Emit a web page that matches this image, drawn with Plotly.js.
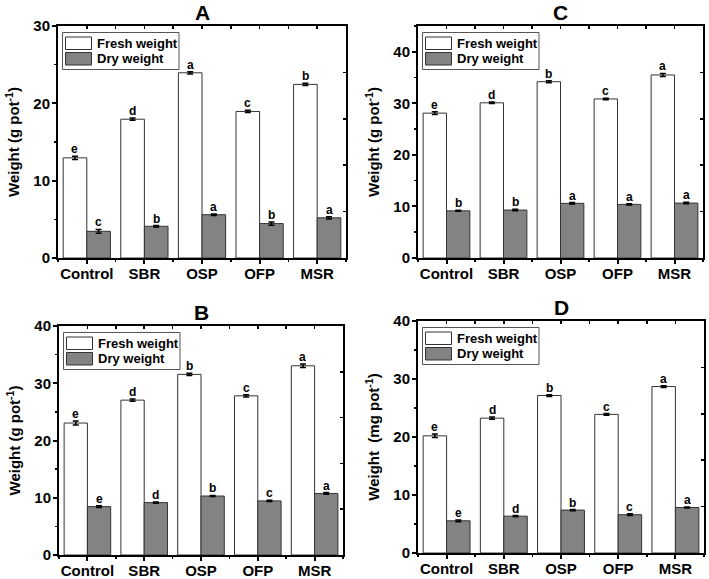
<!DOCTYPE html>
<html>
<head>
<meta charset="utf-8">
<script src="https://cdn.plot.ly/plotly-3.0.1.min.js"></script>
<style>html,body{margin:0;padding:0;background:#fff;}#chart{width:709px;height:579px;}</style>
</head>
<body>
<div id="chart"></div>
<script>
const categories = ['Control', 'SBR', 'OSP', 'OFP', 'MSR'];
const seriesNames = ['Fresh weight', 'Dry weight'];

// Panel A
const freshA = [12.95, 17.95, 23.95, 18.95, 22.45];
const freshErrA = [0.2, 0.15, 0.15, 0.15, 0.15];
const dryA = [3.45, 4.1, 5.6, 4.45, 5.2];
const dryErrA = [0.25, 0.1, 0.1, 0.2, 0.15];
const freshLetA = ['e', 'd', 'a', 'c', 'b'];
const dryLetA = ['c', 'b', 'a', 'b', 'a'];

// Panel B
const freshB = [23.05, 27.05, 31.55, 27.8, 33.05];
const freshErrB = [0.35, 0.2, 0.2, 0.2, 0.3];
const dryB = [8.45, 9.15, 10.3, 9.45, 10.75];
const dryErrB = [0.15, 0.1, 0.1, 0.1, 0.15];
const freshLetB = ['e', 'd', 'b', 'c', 'a'];
const dryLetB = ['e', 'd', 'b', 'c', 'a'];

// Panel C
const freshC = [28.1, 30.1, 34.2, 30.85, 35.5];
const freshErrC = [0.25, 0.15, 0.2, 0.15, 0.3];
const dryC = [9.15, 9.3, 10.6, 10.4, 10.65];
const dryErrC = [0.1, 0.15, 0.15, 0.1, 0.15];
const freshLetC = ['e', 'd', 'b', 'c', 'a'];
const dryLetC = ['b', 'b', 'a', 'a', 'a'];

// Panel D
const freshD = [20.2, 23.25, 27.15, 23.9, 28.7];
const freshErrD = [0.3, 0.2, 0.15, 0.15, 0.15];
const dryD = [5.55, 6.35, 7.4, 6.6, 7.85];
const dryErrD = [0.15, 0.1, 0.1, 0.15, 0.1];
const freshLetD = ['e', 'd', 'b', 'c', 'a'];
const dryLetD = ['e', 'd', 'b', 'c', 'a'];

const panelLabels = ['A', 'B', 'C', 'D'];
const yTitles = ['Weight (g pot<sup>-1</sup>)', 'Weight (g pot<sup>-1</sup>)', 'Weight (g pot<sup>-1</sup>)', 'Weight\u00a0 (mg pot<sup>-1</sup>)'];
const yMax = [30, 40, 45, 40];

const W = 709, H = 579;
const FONT = 'Liberation Sans, Arial, sans-serif';
const FRESH_COLOR = '#ffffff';
const DRY_COLOR = '#838383';
const BARGAP = 0.18;

// pixel boxes of each plot area [left, right, top, bottom]
const boxes = [
  [58, 346, 26, 258],
  [59, 343, 326, 555],
  [418, 703, 26, 258],
  [418, 704, 321, 553]
];

const panels = [
  {fresh: freshA, fe: freshErrA, dry: dryA, de: dryErrA, fl: freshLetA, dl: dryLetA},
  {fresh: freshB, fe: freshErrB, dry: dryB, de: dryErrB, fl: freshLetB, dl: dryLetB},
  {fresh: freshC, fe: freshErrC, dry: dryC, de: dryErrC, fl: freshLetC, dl: dryLetC},
  {fresh: freshD, fe: freshErrD, dry: dryD, de: dryErrD, fl: freshLetD, dl: dryLetD}
];

const xIdx = categories.map((c, i) => i);
const data = [];
const layout = {
  width: W, height: H,
  margin: {l: 0, r: 0, t: 0, b: 0},
  paper_bgcolor: '#ffffff', plot_bgcolor: '#ffffff',
  showlegend: false,
  barmode: 'group', bargap: BARGAP, bargroupgap: 0,
  font: {family: FONT, color: '#000', weight: 'bold'},
  annotations: [], shapes: []
};

const halfBar = (1 - BARGAP) / 4;
const sfx = n => (n === 1 ? '' : String(n));

panels.forEach((p, k) => {
  const n = k + 1;
  const xa = 'x' + sfx(n), ya = 'y' + sfx(n);
  const xo = 'x' + (n + 4), yo = 'y' + (n + 4);
  const b = boxes[k];
  const xdom = [b[0] / W, b[1] / W], ydom = [1 - b[3] / H, 1 - b[2] / H];
  data.push({
    type: 'bar', x: xIdx, y: p.fresh, name: seriesNames[0], xaxis: xa, yaxis: ya,
    marker: {color: FRESH_COLOR, line: {color: '#333', width: 1}},
    error_y: {type: 'data', array: p.fe, visible: true, color: '#000', thickness: 1.5, width: 3}
  });
  data.push({
    type: 'bar', x: xIdx, y: p.dry, name: seriesNames[1], xaxis: xa, yaxis: ya,
    marker: {color: DRY_COLOR, line: {color: '#333', width: 1}},
    error_y: {type: 'data', array: p.de, visible: true, color: '#000', thickness: 1.5, width: 3}
  });
  // invisible carrier for the mirrored (top / right) tick axes
  data.push({type: 'scatter', x: [], y: [], xaxis: xo, yaxis: yo, hoverinfo: 'skip', showlegend: false});
  layout['xaxis' + sfx(n)] = {
    domain: xdom, anchor: ya,
    range: [-0.5, 4.5], tickvals: xIdx, ticktext: categories,
    showline: true, linecolor: '#000', linewidth: 2, mirror: true,
    ticks: 'outside', ticklen: 4, tickwidth: 2, tickcolor: '#000',
    ticklabelstandoff: -3,
    minor: {tick0: -0.5, dtick: 1, ticks: 'outside', ticklen: 2, tickwidth: 1.5, tickcolor: '#000'},
    showgrid: false, zeroline: false, fixedrange: true,
    tickfont: {family: FONT, size: 15, weight: 'bold', color: '#000'}
  };
  layout['yaxis' + sfx(n)] = {
    domain: ydom, anchor: xa,
    range: [0, yMax[k]], dtick: 10,
    showline: true, linecolor: '#000', linewidth: 2, mirror: true,
    ticks: 'outside', ticklen: 4, tickwidth: 2, tickcolor: '#000',
    ticklabelstandoff: -1,
    minor: {dtick: 5, ticks: 'outside', ticklen: 2, tickwidth: 1.5, tickcolor: '#000'},
    showgrid: false, zeroline: false, fixedrange: true,
    tickfont: {family: FONT, size: 15, weight: 'bold', color: '#000'},
    title: {text: yTitles[k], font: {family: FONT, size: 15, weight: 'bold', color: '#000'}, standoff: 10}
  };
  layout['xaxis' + (n + 4)] = {
    domain: xdom, anchor: yo, side: 'top', overlaying: xa,
    range: [-0.5, 4.5], dtick: 0.5, tick0: 0,
    ticks: 'inside', ticklen: 3, tickwidth: 1.5, tickcolor: '#000',
    showticklabels: false, showline: false, showgrid: false, zeroline: false, fixedrange: true
  };
  layout['yaxis' + (n + 4)] = {
    domain: ydom, anchor: xo, side: 'right', overlaying: ya,
    range: [0, yMax[k]], dtick: yMax[k] / 5, tick0: 0,
    ticks: 'inside', ticklen: 3, tickwidth: 1.5, tickcolor: '#000',
    showticklabels: false, showline: false, showgrid: false, zeroline: false, fixedrange: true
  };
  // panel title
  layout.annotations.push({
    xref: 'paper', yref: 'paper', x: (b[0] + b[1]) / 2 / W, y: 1 - b[2] / H,
    yshift: 0, xanchor: 'center', yanchor: 'bottom', showarrow: false,
    text: panelLabels[k], font: {family: FONT, size: 21, weight: 'bold', color: '#000'}
  });
  // significance letters
  categories.forEach((c, i) => {
    layout.annotations.push({
      xref: xa, yref: ya, x: i - halfBar, y: p.fresh[i] + p.fe[i], yanchor: 'bottom', yshift: -2,
      showarrow: false, text: p.fl[i], font: {family: FONT, size: 12, weight: 'bold', color: '#000'}
    });
    layout.annotations.push({
      xref: xa, yref: ya, x: i + halfBar, y: p.dry[i] + p.de[i], yanchor: 'bottom', yshift: -2,
      showarrow: false, text: p.dl[i], font: {family: FONT, size: 12, weight: 'bold', color: '#000'}
    });
  });
  // legend box (drawn in axis-domain coordinates)
  const pw = b[1] - b[0], ph = b[3] - b[2];
  const fx = px => px / pw, fy = py => 1 - py / ph;
  const xd = xa + ' domain', yd = ya + ' domain';
  layout.shapes.push({type: 'rect', xref: xd, yref: yd, x0: fx(4.5), x1: fx(121), y0: fy(6.5), y1: fy(43.5),
    line: {color: '#555', width: 1}, fillcolor: '#fff'});
  layout.shapes.push({type: 'rect', xref: xd, yref: yd, x0: fx(7.5), x1: fx(33.5), y0: fy(11), y1: fy(23.5),
    line: {color: '#333', width: 1}, fillcolor: FRESH_COLOR});
  layout.shapes.push({type: 'rect', xref: xd, yref: yd, x0: fx(7.5), x1: fx(33.5), y0: fy(26.5), y1: fy(39),
    line: {color: '#333', width: 1}, fillcolor: DRY_COLOR});
  layout.annotations.push({xref: xd, yref: yd, x: fx(37), y: fy(17.3), xanchor: 'left', yanchor: 'middle',
    showarrow: false, text: seriesNames[0], font: {family: FONT, size: 13, weight: 'bold', color: '#000'}});
  layout.annotations.push({xref: xd, yref: yd, x: fx(37), y: fy(32.8), xanchor: 'left', yanchor: 'middle',
    showarrow: false, text: seriesNames[1], font: {family: FONT, size: 13, weight: 'bold', color: '#000'}});
});

Plotly.newPlot('chart', data, layout, {staticPlot: true, displayModeBar: false});
</script>
</body>
</html>
